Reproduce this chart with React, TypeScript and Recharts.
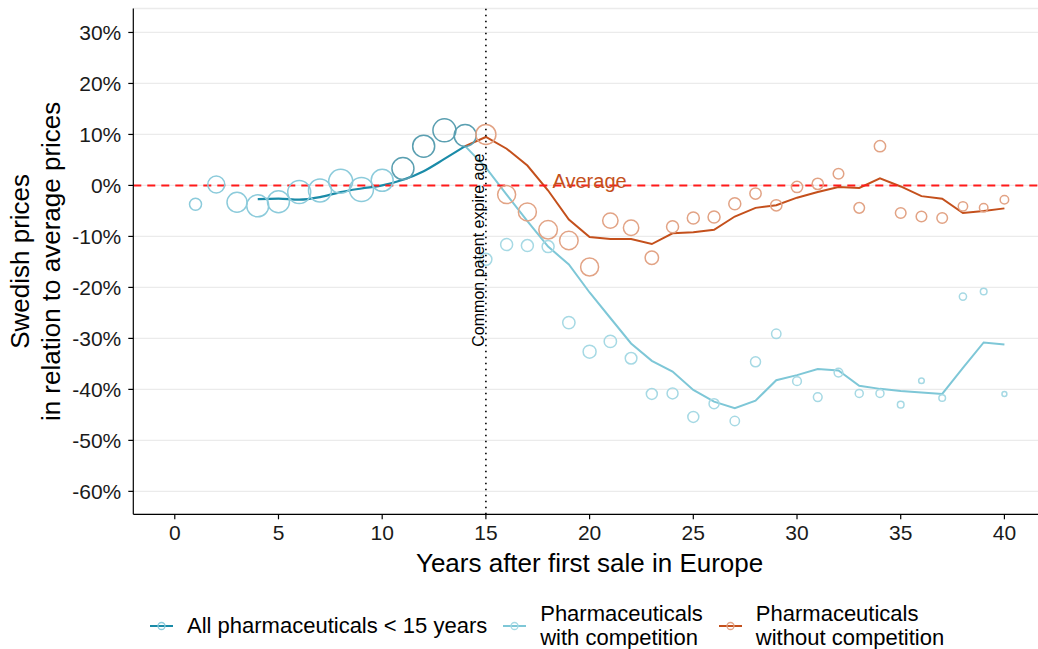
import React from 'react';
import {
  ComposedChart,
  Line,
  Scatter,
  XAxis,
  YAxis,
  ZAxis,
  CartesianGrid,
  ReferenceLine,
  ReferenceDot,
  Legend,
} from 'recharts';

// ---------- data ----------
const allPointYears = [1, 2, 3, 4, 5, 6, 7, 8, 9, 10, 11, 12, 13, 14];
const allPointValues = [-3.7, 0.2, -3.3, -4.0, -3.2, -1.3, -1.0, 0.8, -0.8, 1.0, 3.3, 7.7, 10.8, 9.8];
const allPointWeights = [36, 72, 100, 121, 121, 132, 132, 144, 144, 121, 121, 121, 132, 121];

const allLineYears = [4, 5, 6, 7, 8, 9, 10, 11, 12, 13, 14];
const allLineValues = [-2.7, -2.6, -2.8, -2.3, -1.3, -0.6, 0.0, 1.1, 2.8, 5.2, 7.7];

const compPointYears = [15, 16, 17, 18, 19, 20, 21, 22, 23, 24, 25, 26, 27, 28, 29, 30, 31, 32, 33, 34, 35, 36, 37, 38, 39, 40];
const compPointValues = [-14.5, -11.6, -11.8, -12.0, -26.9, -32.6, -30.6, -33.9, -40.9, -40.8, -45.4, -42.8, -46.2, -34.6, -29.1, -38.4, -41.5, -36.7, -40.8, -40.8, -43.0, -38.3, -41.7, -21.8, -20.8, -40.9];
const compPointWeights = [36, 36, 36, 36, 38, 42, 38, 34, 30, 30, 30, 25, 22, 25, 22, 19, 19, 19, 16, 16, 11, 8, 11, 13, 11, 6];

const compLineYears = [14, 15, 16, 17, 18, 19, 20, 21, 22, 23, 24, 25, 26, 27, 28, 29, 30, 31, 32, 33, 34, 35, 36, 37, 38, 39, 40];
const compLineValues = [7.7, 3.5, -1.8, -7.0, -12.0, -15.5, -21.0, -26.0, -31.0, -34.4, -36.5, -40.1, -42.4, -43.7, -42.2, -38.2, -37.2, -36.0, -36.3, -39.3, -39.9, -40.3, -40.6, -40.9, -35.8, -30.8, -31.2];

const noCompPointYears = [15, 16, 17, 18, 19, 20, 21, 22, 23, 24, 25, 26, 27, 28, 29, 30, 31, 32, 33, 34, 35, 36, 37, 38, 39, 40];
const noCompPointValues = [10.0, -1.8, -5.2, -8.7, -10.8, -16.0, -6.9, -8.3, -14.2, -8.1, -6.4, -6.2, -3.6, -1.6, -3.9, -0.3, 0.3, 2.3, -4.4, 7.7, -5.4, -6.1, -6.4, -4.1, -4.4, -2.8];
const noCompPointWeights = [100, 81, 81, 86, 86, 81, 59, 59, 45, 36, 36, 36, 36, 32, 32, 32, 32, 28, 28, 32, 28, 28, 28, 22, 18, 18];

const noCompLineYears = [14, 15, 16, 17, 18, 19, 20, 21, 22, 23, 24, 25, 26, 27, 28, 29, 30, 31, 32, 33, 34, 35, 36, 37, 38, 39, 40];
const noCompLineValues = [7.7, 9.5, 7.2, 3.9, -1.0, -6.7, -10.1, -10.5, -10.5, -11.5, -9.4, -9.2, -8.7, -6.1, -4.4, -3.9, -2.4, -1.3, -0.3, -0.5, 1.4, -0.2, -2.1, -2.6, -5.4, -5.0, -4.5];

const xTicks = [0, 5, 10, 15, 20, 25, 30, 35, 40];
const yTicks = [-60, -50, -40, -30, -20, -10, 0, 10, 20, 30];

const patentYear = 15;
const patentLabelValue = -12.7;
const patentLabelText = 'Common patent expire age';
const averageValue = 0;
const averageLabelYear = 20;
const averageLabelValue = 0.8;
const averageLabelText = 'Average';

const xTitle = 'Years after first sale in Europe';
const yTitleLines = ['Swedish prices', 'in relation to average prices'];

const legendLabels = [
  ['All pharmaceuticals < 15 years'],
  ['Pharmaceuticals', 'with competition'],
  ['Pharmaceuticals', 'without competition'],
];

// ---------- styles ----------
const FONT = '"Liberation Sans", Arial, Helvetica, sans-serif';
const ALL_LINE = '#1a8ba8';
const ALL_PT_LIGHT = '#8ccbdb';
const ALL_PT_DARK = '#5a9fb1';
const COMP_LINE = '#7ec7d7';
const COMP_PT = '#a6d9e4';
const NOCOMP_LINE = '#c4501c';
const NOCOMP_PT = '#e2a385';
const legendColors = [
  [ALL_LINE, ALL_PT_LIGHT],
  [COMP_LINE, COMP_PT],
  [NOCOMP_LINE, NOCOMP_PT],
];

const toPts = (xs: number[], ys: number[], ws?: number[]) =>
  xs.map((x, i) => (ws ? { x, y: ys[i], w: ws[i] } : { x, y: ys[i] }));

const allPoints = toPts(allPointYears, allPointValues, allPointWeights);
const allLine = toPts(allLineYears, allLineValues);
const compPoints = toPts(compPointYears, compPointValues, compPointWeights);
const compLine = toPts(compLineYears, compLineValues);
const noCompPoints = toPts(noCompPointYears, noCompPointValues, noCompPointWeights);
const noCompLine = toPts(noCompLineYears, noCompLineValues);

const ring = (colorFor: (p: any) => string) => (props: any) => {
  const { cx, cy, size, payload } = props;
  if (cx == null || cy == null) return <g />;
  const r = size ? Math.sqrt(size / Math.PI) : Math.sqrt(payload?.w ?? 16);
  return <circle cx={cx} cy={cy} r={r} fill="none" stroke={colorFor(payload)} strokeWidth={1.5} />;
};

const PatentLabel = (props: any) => {
  const vb = props.viewBox || {};
  const x = (vb.x ?? 0) - 1.5;
  const y = vb.y ?? 0;
  return (
    <text x={x} y={y} transform={`rotate(-90, ${x}, ${y})`} textAnchor="middle" fontSize={16} fill="#000" fontFamily={FONT}>
      {patentLabelText}
    </text>
  );
};

const AverageLabel = (props: any) => {
  const vb = props.viewBox || {};
  return (
    <text x={vb.x} y={(vb.y ?? 0) + 7} textAnchor="middle" fontSize={20} fill={NOCOMP_LINE} fontFamily={FONT}>
      {averageLabelText}
    </text>
  );
};

const XTitle = (props: any) => {
  const vb = props.viewBox || {};
  return (
    <text x={vb.x + vb.width / 2} y={vb.y + 57.7} textAnchor="middle" fontSize={26} fill="#000" fontFamily={FONT}>
      {xTitle}
    </text>
  );
};

const YTitle = (props: any) => {
  const vb = props.viewBox || {};
  const cy = vb.y + vb.height / 2;
  const x1 = vb.x - 44;
  return (
    <text x={x1} y={cy} transform={`rotate(-90, ${x1}, ${cy})`} textAnchor="middle" fontSize={26} fill="#000" fontFamily={FONT}>
      <tspan x={x1} dy={0}>{yTitleLines[0]}</tspan>
      <tspan x={x1} dy={30.5}>{yTitleLines[1]}</tspan>
    </text>
  );
};

const LegendContent = () => (
  <div style={{ display: 'flex', alignItems: 'center', fontFamily: FONT, fontSize: 22, color: '#000', lineHeight: '24.5px' }}>
    {legendLabels.map((lines, i) => (
      <div key={i} style={{ display: 'flex', alignItems: 'center', marginRight: 16 }}>
        <svg width={23} height={12} style={{ marginRight: 14, display: 'block' }}>
          <line x1={0} y1={6} x2={23} y2={6} stroke={legendColors[i][0]} strokeWidth={2} />
          <circle cx={11.5} cy={6} r={3.5} fill="none" stroke={legendColors[i][1]} strokeWidth={1.3} />
        </svg>
        <div style={{ whiteSpace: 'nowrap' }}>
          {lines.map((l, j) => (
            <div key={j}>{l}</div>
          ))}
        </div>
      </div>
    ))}
  </div>
);

export default function App() {
  return (
    <div style={{ position: 'absolute', left: 0, top: 0, width: 1038, height: 649, overflow: 'hidden', background: '#fff' }}>
      <ComposedChart
        width={1050}
        height={649}
        margin={{ top: 8.5, right: 4.1, bottom: 94.7, left: 73.3 }}
        style={{ fontFamily: FONT }}
      >
        <CartesianGrid vertical={false} stroke="#ebebeb" strokeWidth={1.3} />
        <XAxis
          type="number"
          dataKey="x"
          domain={[-2, 42]}
          ticks={xTicks}
          height={40}
          stroke="#000"
          strokeWidth={1.2}
          tickSize={5}
          tickMargin={6}
          tick={{ fontSize: 21, fill: '#1a1a1a', fontFamily: FONT }}
          tickLine={{ stroke: '#000', strokeWidth: 1.2 }}
          allowDuplicatedCategory={false}
          label={{ content: XTitle }}
        />
        <YAxis
          type="number"
          dataKey="y"
          domain={[-64.5, 34.7]}
          ticks={yTicks}
          width={60}
          stroke="#000"
          strokeWidth={1.2}
          tickSize={5}
          tickMargin={7}
          tick={{ fontSize: 21, fill: '#1a1a1a', fontFamily: FONT }}
          tickLine={{ stroke: '#000', strokeWidth: 1.2 }}
          tickFormatter={(v: number) => `${v}%`}
          label={{ content: YTitle }}
        />
        <ZAxis type="number" dataKey="w" domain={[0, 150]} range={[0, 150 * Math.PI]} />

        <Scatter
          name="All pharmaceuticals < 15 years"
          data={allPoints}
          isAnimationActive={false}
          shape={ring((p) => (p && p.x >= 11 ? ALL_PT_DARK : ALL_PT_LIGHT))}
        />
        <Scatter name="Pharmaceuticals with competition" data={compPoints} isAnimationActive={false} shape={ring(() => COMP_PT)} />
        <Scatter name="Pharmaceuticals without competition" data={noCompPoints} isAnimationActive={false} shape={ring(() => NOCOMP_PT)} />

        <Line data={compLine} dataKey="y" type="linear" stroke={COMP_LINE} strokeWidth={2} dot={false} activeDot={false} isAnimationActive={false} legendType="none" />
        <Line data={noCompLine} dataKey="y" type="linear" stroke={NOCOMP_LINE} strokeWidth={2} dot={false} activeDot={false} isAnimationActive={false} legendType="none" />
        <Line data={allLine} dataKey="y" type="monotone" stroke={ALL_LINE} strokeWidth={2.2} dot={false} activeDot={false} isAnimationActive={false} legendType="none" />

        <ReferenceLine y={averageValue} stroke="#ff1a1a" strokeWidth={2} strokeDasharray="8 6" />
        <ReferenceLine x={patentYear} stroke="#000" strokeWidth={1.6} strokeDasharray="1.6 4.4" />
        <ReferenceDot x={patentYear} y={patentLabelValue} r={0} fill="none" stroke="none" label={{ content: PatentLabel }} />
        <ReferenceDot x={averageLabelYear} y={averageLabelValue} r={0} fill="none" stroke="none" label={{ content: AverageLabel }} />

        <Legend
          layout="horizontal"
          verticalAlign="middle"
          align="center"
          content={LegendContent}
          wrapperStyle={{ left: 150, top: 601.5, width: 880, height: 50 }}
        />
      </ComposedChart>
    </div>
  );
}
